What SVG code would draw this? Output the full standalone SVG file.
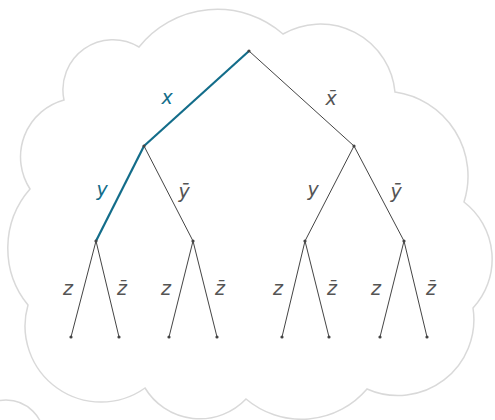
<svg xmlns="http://www.w3.org/2000/svg" width="495" height="420" viewBox="0 0 495 420">
<style>
.cloud{fill:#fff;stroke:#d9d9d9;stroke-width:1.5}
.e{stroke:#444;stroke-width:1;fill:none}
.h{stroke:#136d8a;stroke-width:2.2;fill:none}
.n{fill:#444}
.t{font-family:"DejaVu Sans",sans-serif;font-style:italic;font-size:19px;fill:#555;text-anchor:middle}
.th{fill:#136d8a}
</style>
<rect width="495" height="420" fill="#fff"/>
<path class="cloud" d="M64,100 A50,50 0 0 1 139,47 A100,100 0 0 1 283,34 A75,75 0 0 1 395,92 A85,85 0 0 1 464,202 A72,72 0 0 1 473,308 A76,76 0 0 1 367,389 A86,86 0 0 1 246,399 A64,64 0 0 1 145,388 A76,76 0 0 1 28,305 A90,90 0 0 1 30,189 A59,59 0 0 1 64,100 Z"/>
<circle class="cloud" cx="6" cy="438" r="38"/>
<g id="connectors">
<line class="e" x1="249" y1="51" x2="354" y2="146"/>
<line class="e" x1="144" y1="146" x2="193" y2="241"/>
<line class="e" x1="354" y1="146" x2="305" y2="241"/>
<line class="e" x1="354" y1="146" x2="404" y2="241"/>
<line class="e" x1="96" y1="241" x2="71" y2="337"/>
<line class="e" x1="96" y1="241" x2="119" y2="337"/>
<line class="e" x1="193" y1="241" x2="169" y2="337"/>
<line class="e" x1="193" y1="241" x2="217" y2="337"/>
<line class="e" x1="305" y1="241" x2="282" y2="337"/>
<line class="e" x1="305" y1="241" x2="329" y2="337"/>
<line class="e" x1="404" y1="241" x2="380" y2="337"/>
<line class="e" x1="404" y1="241" x2="427" y2="337"/>
<line class="h" x1="249" y1="51" x2="144" y2="146"/>
<line class="h" x1="144" y1="146" x2="96" y2="241"/>
<text class="t th" x="167" y="104">x</text>
<text class="t" x="331" y="105">x̄</text>
<text class="t th" x="102" y="196">y</text>
<text class="t" x="184" y="198">ȳ</text>
<text class="t" x="313" y="196">y</text>
<text class="t" x="396" y="198">ȳ</text>
<text class="t" x="68" y="295">z</text>
<text class="t" x="122" y="295">z̄</text>
<text class="t" x="166" y="295">z</text>
<text class="t" x="220" y="295">z̄</text>
<text class="t" x="278" y="295">z</text>
<text class="t" x="332" y="295">z̄</text>
<text class="t" x="376" y="295">z</text>
<text class="t" x="431" y="295">z̄</text>
</g>
<g id="root"><circle class="n" cx="249" cy="51" r="1.6"/></g>
<g id="nx"><circle class="n" cx="144" cy="146" r="1.6"/></g>
<g id="nxb"><circle class="n" cx="354" cy="146" r="1.6"/></g>
<g id="nxy"><circle class="n" cx="96" cy="241" r="1.6"/></g>
<g id="nxyb"><circle class="n" cx="193" cy="241" r="1.6"/></g>
<g id="nxby"><circle class="n" cx="305" cy="241" r="1.6"/></g>
<g id="nxbyb"><circle class="n" cx="404" cy="241" r="1.6"/></g>
<g id="l1"><circle class="n" cx="71" cy="337" r="1.6"/></g>
<g id="l2"><circle class="n" cx="119" cy="337" r="1.6"/></g>
<g id="l3"><circle class="n" cx="169" cy="337" r="1.6"/></g>
<g id="l4"><circle class="n" cx="217" cy="337" r="1.6"/></g>
<g id="l5"><circle class="n" cx="282" cy="337" r="1.6"/></g>
<g id="l6"><circle class="n" cx="329" cy="337" r="1.6"/></g>
<g id="l7"><circle class="n" cx="380" cy="337" r="1.6"/></g>
<g id="l8"><circle class="n" cx="427" cy="337" r="1.6"/></g>
</svg>
